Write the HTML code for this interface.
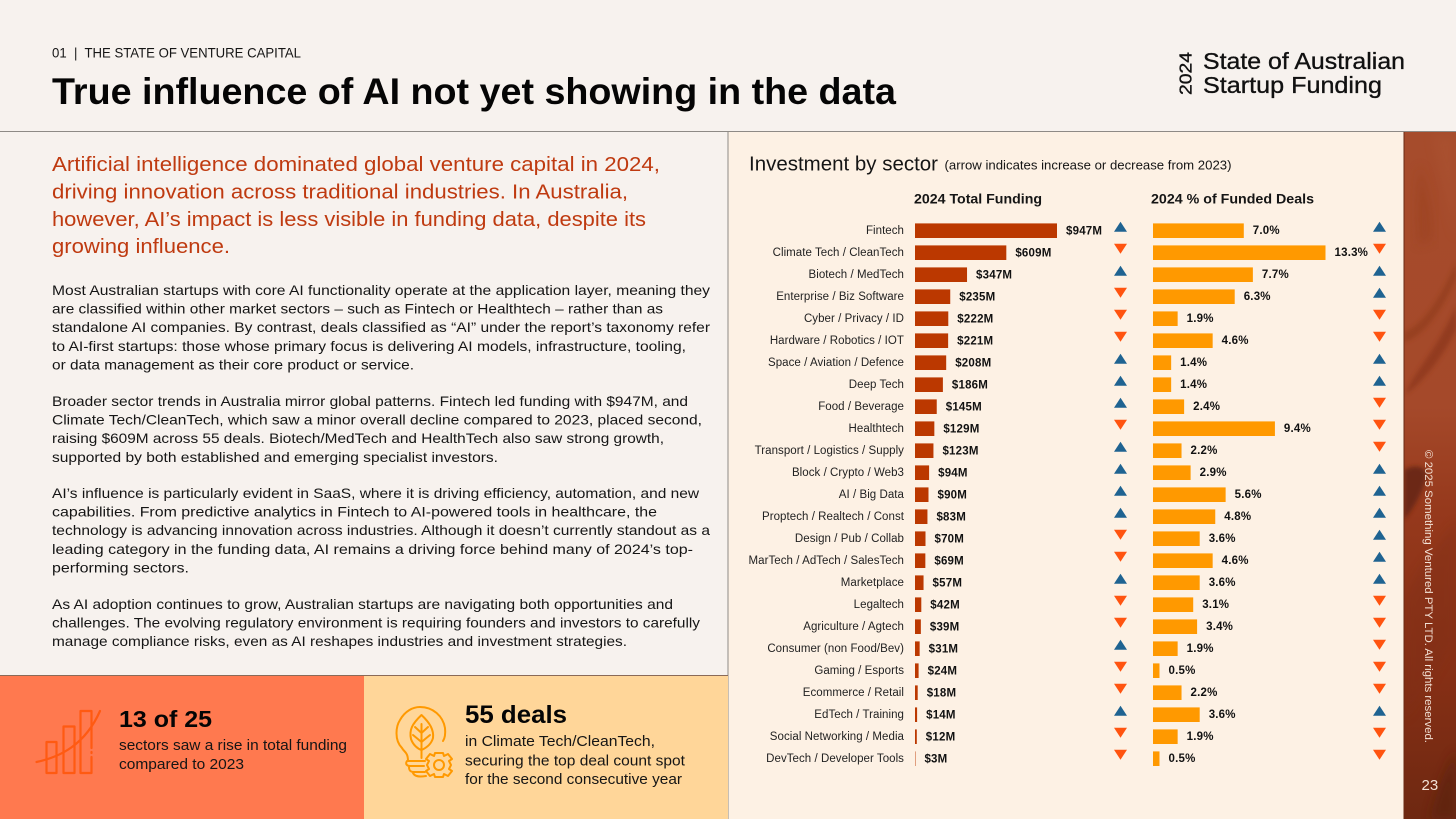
<!DOCTYPE html>
<html lang="en">
<head>
<meta charset="utf-8">
<title>True influence of AI not yet showing in the data</title>
<style>
html,body{margin:0;padding:0;width:1456px;height:819px;overflow:hidden;background:#F7F2EE}
svg{display:block;font-family:"Liberation Sans",sans-serif}
.body-line{font-size:14px;fill:#151515}
.lede{font-size:20.5px;fill:#BF3A10}
.tile-text{font-size:14.5px;fill:#151515}
</style>
</head>
<body>
<svg id="slide" xmlns="http://www.w3.org/2000/svg" width="1456" height="819" viewBox="0 0 1456 819">
  <defs>
    <linearGradient id="sideBase" x1="0" y1="0" x2="0" y2="1">
      <stop offset="0" stop-color="#A64C2C"/>
      <stop offset="0.4" stop-color="#A5492A"/>
      <stop offset="0.55" stop-color="#96391C"/>
      <stop offset="0.8" stop-color="#852F15"/>
      <stop offset="1" stop-color="#6E2811"/>
    </linearGradient>
    <filter id="blur6" x="-40%" y="-40%" width="180%" height="180%"><feGaussianBlur stdDeviation="5"/></filter>
    <filter id="blur2" x="-40%" y="-40%" width="180%" height="180%"><feGaussianBlur stdDeviation="2"/></filter>
    <clipPath id="sideClip"><rect x="1404" y="132" width="52" height="687"/></clipPath>
  </defs>

  <rect x="0" y="0" width="1456" height="819" fill="#F7F2EE"/>
  <rect x="728" y="132" width="676" height="687" fill="#FDF1E4"/>
  <rect x="0" y="131" width="1456" height="1" fill="#8E8A86"/>
  <rect x="727.5" y="132" width="1" height="687" fill="#8E8A86"/>

  <g clip-path="url(#sideClip)">
    <rect x="1404" y="132" width="52" height="687" fill="url(#sideBase)"/>
    <path d="M1404 332 C1418 328 1438 306 1456 262 L1456 278 C1440 316 1420 338 1404 342Z" fill="#933C1C" opacity=".75" filter="url(#blur2)"/>
    <path d="M1406 392 C1416 370 1438 348 1456 306 L1456 330 C1440 362 1420 384 1406 394Z" fill="#8E371A" opacity=".8" filter="url(#blur2)"/>
    <path d="M1420 165 C1428 190 1434 215 1432 240 L1418 245 C1416 215 1416 190 1420 165Z" fill="#99401F" opacity=".5" filter="url(#blur6)"/>
    <path d="M1432 135 C1440 170 1448 210 1456 240 L1456 135Z" fill="#B05A38" opacity=".3" filter="url(#blur6)"/>
    <path d="M1404 470 C1414 464 1425 466 1427 474 C1424 492 1412 510 1404 520Z" fill="#672712" opacity=".9" filter="url(#blur2)"/>
    <path d="M1404 600 C1420 560 1445 540 1456 520 L1456 640 C1435 670 1420 700 1404 720Z" fill="#7E2D15" opacity=".35" filter="url(#blur6)"/>
    <path d="M1430 819 C1438 785 1448 765 1456 750 L1456 819Z" fill="#5C2310" opacity=".7" filter="url(#blur6)"/>
  </g>
  <rect x="1403.5" y="132" width="1" height="687" fill="#6A2A14"/>

  <text xml:space="preserve" style="white-space:pre" x="52" y="57.5" font-size="14" fill="#151515" textLength="249" lengthAdjust="spacingAndGlyphs">01  |  THE STATE OF VENTURE CAPITAL</text>
  <text x="52" y="104" font-size="37" font-weight="700" fill="#050505" textLength="844" lengthAdjust="spacingAndGlyphs">True influence of AI not yet showing in the data</text>

  <g fill="#111" stroke="#111" stroke-width=".35">
    <text transform="translate(1191.5,95) rotate(-90)" font-size="17.5" textLength="43" lengthAdjust="spacingAndGlyphs">2024</text>
    <text x="1203" y="69" font-size="23.5" textLength="202" lengthAdjust="spacingAndGlyphs">State of Australian</text>
    <text x="1203" y="93" font-size="23.5" textLength="179" lengthAdjust="spacingAndGlyphs">Startup Funding</text>
  </g>

  <g>
    <text class="lede" x="52" y="171" textLength="608" lengthAdjust="spacingAndGlyphs">Artificial intelligence dominated global venture capital in 2024,</text>
    <text class="lede" x="52" y="198.5" textLength="576" lengthAdjust="spacingAndGlyphs">driving innovation across traditional industries. In Australia,</text>
    <text class="lede" x="52" y="226" textLength="594" lengthAdjust="spacingAndGlyphs">however, AI’s impact is less visible in funding data, despite its</text>
    <text class="lede" x="52" y="253" textLength="178" lengthAdjust="spacingAndGlyphs">growing influence.</text>
  </g>

  <g>
    <text class="body-line" x="52" y="295" textLength="658" lengthAdjust="spacingAndGlyphs">Most Australian startups with core AI functionality operate at the application layer, meaning they</text>
    <text class="body-line" x="52" y="313.6" textLength="611" lengthAdjust="spacingAndGlyphs">are classified within other market sectors – such as Fintech or Healthtech – rather than as</text>
    <text class="body-line" x="52" y="332.2" textLength="658" lengthAdjust="spacingAndGlyphs">standalone AI companies. By contrast, deals classified as “AI” under the report’s taxonomy refer</text>
    <text class="body-line" x="52" y="350.8" textLength="634" lengthAdjust="spacingAndGlyphs">to AI-first startups: those whose primary focus is delivering AI models, infrastructure, tooling,</text>
    <text class="body-line" x="52" y="369.4" textLength="362" lengthAdjust="spacingAndGlyphs">or data management as their core product or service.</text>
  </g>
  <g>
    <text class="body-line" x="52" y="406" textLength="636" lengthAdjust="spacingAndGlyphs">Broader sector trends in Australia mirror global patterns. Fintech led funding with $947M, and</text>
    <text class="body-line" x="52" y="424.6" textLength="650" lengthAdjust="spacingAndGlyphs">Climate Tech/CleanTech, which saw a minor overall decline compared to 2023, placed second,</text>
    <text class="body-line" x="52" y="443.2" textLength="612" lengthAdjust="spacingAndGlyphs">raising $609M across 55 deals. Biotech/MedTech and HealthTech also saw strong growth,</text>
    <text class="body-line" x="52" y="461.8" textLength="446" lengthAdjust="spacingAndGlyphs">supported by both established and emerging specialist investors.</text>
  </g>
  <g>
    <text class="body-line" x="52" y="498" textLength="647" lengthAdjust="spacingAndGlyphs">AI’s influence is particularly evident in SaaS, where it is driving efficiency, automation, and new</text>
    <text class="body-line" x="52" y="516.6" textLength="605" lengthAdjust="spacingAndGlyphs">capabilities. From predictive analytics in Fintech to AI-powered tools in healthcare, the</text>
    <text class="body-line" x="52" y="535.2" textLength="658" lengthAdjust="spacingAndGlyphs">technology is advancing innovation across industries. Although it doesn’t currently standout as a</text>
    <text class="body-line" x="52" y="553.8" textLength="641" lengthAdjust="spacingAndGlyphs">leading category in the funding data, AI remains a driving force behind many of 2024’s top-</text>
    <text class="body-line" x="52" y="572.4" textLength="137" lengthAdjust="spacingAndGlyphs">performing sectors.</text>
  </g>
  <g>
    <text class="body-line" x="52" y="609" textLength="621" lengthAdjust="spacingAndGlyphs">As AI adoption continues to grow, Australian startups are navigating both opportunities and</text>
    <text class="body-line" x="52" y="627.6" textLength="648" lengthAdjust="spacingAndGlyphs">challenges. The evolving regulatory environment is requiring founders and investors to carefully</text>
    <text class="body-line" x="52" y="646.2" textLength="575" lengthAdjust="spacingAndGlyphs">manage compliance risks, even as AI reshapes industries and investment strategies.</text>
  </g>

  <rect x="0" y="675" width="728" height="1" fill="#8A6A58"/>
  <g>
    <rect x="0" y="676" width="364" height="143" fill="#FF794F"/>
    <g fill="none" stroke="#FF5A12" stroke-width="2.2" stroke-linecap="round" stroke-linejoin="round">
      <rect x="46.5" y="742" width="10" height="31"/>
      <rect x="63.5" y="726.5" width="11" height="46.5"/>
      <path d="M91.5 748 V711 H80.5 V773 H91.5 V757 M91.5 752 V753"/>
      <path d="M36.5 762 C60 757 85 745 100 711"/>
    </g>
    <text x="119" y="727" font-size="23" font-weight="700" fill="#050505" textLength="93" lengthAdjust="spacingAndGlyphs">13 of 25</text>
    <text class="tile-text" x="119" y="750" textLength="228" lengthAdjust="spacingAndGlyphs">sectors saw a rise in total funding</text>
    <text class="tile-text" x="119" y="769" textLength="125" lengthAdjust="spacingAndGlyphs">compared to 2023</text>
  </g>
  <g>
    <rect x="364" y="676" width="364" height="143" fill="#FFD699"/>
    <g fill="none" stroke="#FF9900" stroke-width="2" stroke-linecap="round" stroke-linejoin="round">
      <path d="M425 761 L408 761 C408 752 404 752 402 748 C394 740 396 726 400 720 C405 711 413 707 420 707 C433 707 443 716 445 728 C445.5 733 445 738 443 741"/>
      <path d="M421.5 715 C412 724 409 730 411 739 C413 745 418 749 421.5 750 C426 748 431 745 433 738 C434 730 430 723 421.5 715Z"/>
      <path d="M421.5 724 V758 M421.5 733 L415 727 M421.5 733 L428 727 M421.5 742 L413 735 M421.5 742 L430 735"/>
      <path d="M407 761 C405 764 407 766 410 766 H424 M409 767 C409 771 411 772 414 772 H425 M413 773 C415 777 420 777 426 776"/>
      <path d="M435 753 H443 L444 756 L448 754 L452 759 L449 761 L451 765 L449 769 L452 771 L448 776 L444 774 L443 777 H435 L434 774 L430 776 L426 771 L429 769 L427 765 L429 761 L426 759 L430 754 L434 756Z"/>
      <circle cx="439" cy="765" r="5"/>
    </g>
    <text x="465" y="723" font-size="25" font-weight="700" fill="#050505" textLength="102" lengthAdjust="spacingAndGlyphs">55 deals</text>
    <text class="tile-text" x="465" y="746" textLength="190" lengthAdjust="spacingAndGlyphs">in Climate Tech/CleanTech,</text>
    <text class="tile-text" x="465" y="765.5" textLength="220" lengthAdjust="spacingAndGlyphs">securing the top deal count spot</text>
    <text class="tile-text" x="465" y="784" textLength="217" lengthAdjust="spacingAndGlyphs">for the second consecutive year</text>
  </g>

  <text x="749" y="170.5" font-size="20" fill="#151515" textLength="189" lengthAdjust="spacingAndGlyphs">Investment by sector</text>
  <text x="944.5" y="169.5" font-size="13" fill="#151515" textLength="287" lengthAdjust="spacingAndGlyphs">(arrow indicates increase or decrease from 2023)</text>
  <text x="914" y="203.5" font-size="14" font-weight="700" fill="#151515" textLength="128" lengthAdjust="spacingAndGlyphs">2024 Total Funding</text>
  <text x="1151" y="203.5" font-size="14" font-weight="700" fill="#151515" textLength="163" lengthAdjust="spacingAndGlyphs">2024 % of Funded Deals</text>

  <g id="chart"></g>

  <text transform="translate(1425,450) rotate(90)" font-size="11" fill="#F3E2D6" textLength="293" lengthAdjust="spacingAndGlyphs">© 2025 Something Ventured PTY LTD. All rights reserved.</text>
  <text x="1421.5" y="790" font-size="15" fill="#F3E2D6">23</text>
</svg>

<script>
const sectors = ["Fintech","Climate Tech / CleanTech","Biotech / MedTech","Enterprise / Biz Software","Cyber / Privacy / ID","Hardware / Robotics / IOT","Space / Aviation / Defence","Deep Tech","Food / Beverage","Healthtech","Transport / Logistics / Supply","Block / Crypto / Web3","AI / Big Data","Proptech / Realtech / Const","Design / Pub / Collab","MarTech / AdTech / SalesTech","Marketplace","Legaltech","Agriculture / Agtech","Consumer (non Food/Bev)","Gaming / Esports","Ecommerce / Retail","EdTech / Training","Social Networking / Media","DevTech / Developer Tools"];
const fundingValues = [947,609,347,235,222,221,208,186,145,129,123,94,90,83,70,69,57,42,39,31,24,18,14,12,3];
const dealShares = [7.0,13.3,7.7,6.3,1.9,4.6,1.4,1.4,2.4,9.4,2.2,2.9,5.6,4.8,3.6,4.6,3.6,3.1,3.4,1.9,0.5,2.2,3.6,1.9,0.5];
const fundingChange = ["up","down","up","down","down","down","up","up","up","down","up","up","up","up","down","down","up","down","down","up","down","down","up","down","down"];
const dealsChange = ["up","down","up","up","down","down","up","up","down","down","down","up","up","up","up","up","up","down","down","down","down","down","up","down","down"];

const SVGNS = "http://www.w3.org/2000/svg";
const chart = document.getElementById("chart");
const rowY = i => 230.7 + 22 * i;
const fundingX = v => v * 142 / 947;
const dealsX = v => v * 12.97;
const BAR_H = 14.6;

function shape(tag, parent) {
  const el = document.createElementNS(SVGNS, tag);
  parent.appendChild(el);
  return el;
}
function arrowPoints(cx, cy, dir) {
  return dir === "up"
    ? (cx - 6.5) + "," + (cy + 5) + " " + (cx + 6.5) + "," + (cy + 5) + " " + cx + "," + (cy - 5)
    : (cx - 6.5) + "," + (cy - 5) + " " + (cx + 6.5) + "," + (cy - 5) + " " + cx + "," + (cy + 5);
}

sectors.forEach((name, i) => {
  const y = rowY(i);

  const label = shape("text", chart);
  
  
  label.setAttribute("x", 904);
  label.setAttribute("y", y + 3.3);
  label.setAttribute("text-anchor", "end");
  label.setAttribute("font-size", "11.5");
  label.setAttribute("letter-spacing", "0.05");
  label.setAttribute("fill", "#222");
  label.textContent = name;

  const fw = fundingX(fundingValues[i]);
  const fBar = shape("rect", chart);
  
  
  fBar.setAttribute("x", 915);
  fBar.setAttribute("y", y - BAR_H / 2);
  fBar.setAttribute("width", fw);
  fBar.setAttribute("height", BAR_H);
  fBar.setAttribute("fill", "#BB3800");

  const fVal = shape("text", chart);
  
  
  fVal.setAttribute("x", 915 + fw + 9);
  fVal.setAttribute("y", y + 3.9);
  fVal.setAttribute("font-size", "11.5");
  fVal.setAttribute("font-weight", "700");
  fVal.setAttribute("letter-spacing", "0.2");
  fVal.setAttribute("fill", "#111");
  fVal.textContent = "$" + fundingValues[i] + "M";

  const fArrow = shape("polygon", chart);
  
  
  fArrow.setAttribute("points", arrowPoints(1120.5, y - 4, fundingChange[i]));
  fArrow.setAttribute("fill", fundingChange[i] === "up" ? "#1F6391" : "#FF5410");

  const dw = dealsX(dealShares[i]);
  const dBar = shape("rect", chart);
  
  
  dBar.setAttribute("x", 1153);
  dBar.setAttribute("y", y - BAR_H / 2);
  dBar.setAttribute("width", dw);
  dBar.setAttribute("height", BAR_H);
  dBar.setAttribute("fill", "#FF9900");

  const dVal = shape("text", chart);
  
  
  dVal.setAttribute("x", 1153 + dw + 9);
  dVal.setAttribute("y", y + 3.4);
  dVal.setAttribute("font-size", "11.5");
  dVal.setAttribute("font-weight", "700");
  dVal.setAttribute("letter-spacing", "0.2");
  dVal.setAttribute("fill", "#111");
  dVal.textContent = dealShares[i].toFixed(1) + "%";

  const dArrow = shape("polygon", chart);
  
  
  dArrow.setAttribute("points", arrowPoints(1379.5, y - 4, dealsChange[i]));
  dArrow.setAttribute("fill", dealsChange[i] === "up" ? "#1F6391" : "#FF5410");
});
</script>
</body>
</html>
